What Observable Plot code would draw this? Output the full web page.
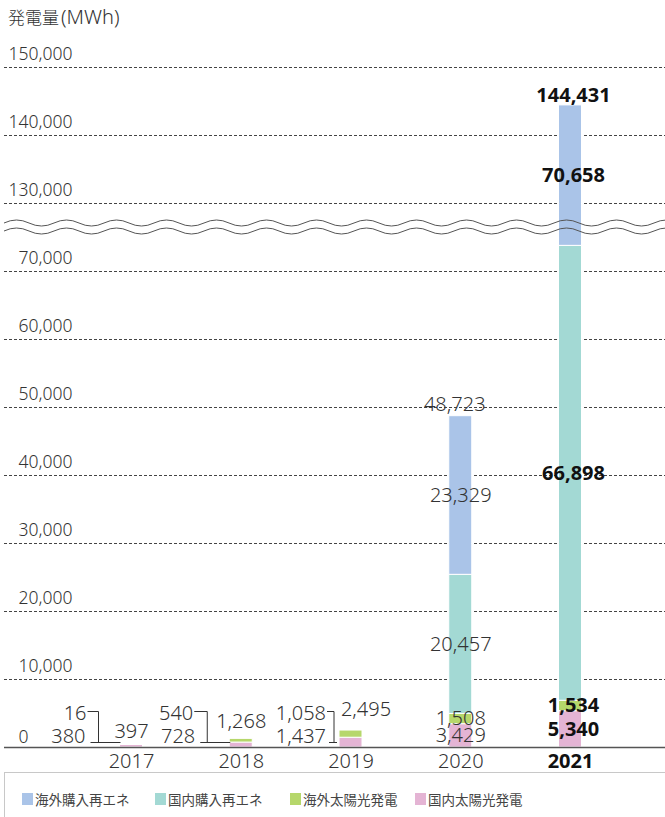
<!DOCTYPE html>
<html><head><meta charset="utf-8">
<script src="https://cdn.jsdelivr.net/npm/d3@7"></script>
<script src="https://cdn.jsdelivr.net/npm/@observablehq/plot@0.6"></script>
<style>
body{margin:0;background:#fff;}
#wrap{position:relative;width:665px;height:817px;overflow:hidden;font-family:'Noto Sans','Noto Sans CJK JP',sans-serif;}
#chart{position:absolute;left:0;top:0;}
#title{position:absolute;left:8px;top:3px;font-size:17px;color:#333;font-weight:300;font-family:'Noto Sans CJK JP','Noto Sans',sans-serif;white-space:nowrap;}
#title .u{font-family:'Noto Sans',sans-serif;font-size:20px;margin-left:2px;}
#legend{position:absolute;left:4px;top:772px;width:700px;height:60px;border-top:1px solid #c8c8c8;border-left:1px solid #c8c8c8;}
.item{position:absolute;top:19px;font-size:13.5px;color:#444;display:flex;align-items:center;font-family:'Noto Sans CJK JP',sans-serif;line-height:14px;}
.sw{width:11px;height:12px;margin-right:2px;}
</style></head><body>
<div id="wrap"><div id="chart"></div><div id="title">発電量<span class="u">(MWh)</span></div><div id="legend"></div></div>
<script>
// ---- data ----
const years = [2017, 2018, 2019, 2020, 2021];
const seriesNames = ["国内太陽光発電", "海外太陽光発電", "国内購入再エネ", "海外購入再エネ"]; // stack order bottom → top
const domesticSolar = [380, 728, 1437, 3429, 5340];
const overseasSolar = [16, 540, 1058, 1508, 1534];
const domesticPurchased = [0, 0, 0, 20457, 66898];
const overseasPurchased = [0, 0, 0, 23329, 70658];
const totals = [397, 1268, 2495, 48723, 144431];
const lowerTicks = [0, 10000, 20000, 30000, 40000, 50000, 60000, 70000];
const upperTicks = [130000, 140000, 150000];
const legendOrder = ["海外購入再エネ", "国内購入再エネ", "海外太陽光発電", "国内太陽光発電"];
const seriesColors = ["#e4b4d4", "#b6d76b", "#a3d9d4", "#aac4e8"];

// ---- layout / styles ----
const W = 665, H = 775, X0 = 4;
const xDomain = [2015.8428, 2021.8656];
const yDomain = [0, 100000];
const yRange = [747, 67];
const PPX = (W - X0) / (xDomain[1] - xDomain[0]);
const PPY = (yRange[0] - yRange[1]) / (yDomain[1] - yDomain[0]);
const ux = px => px / PPX;
const uy = px => px / PPY;
const brk = v => v >= 100000 ? v - 50000 : v;   // axis break: 75k–125k removed
const fmt = d3.format(",");
const FONT = "'Noto Sans','Noto Sans CJK JP',sans-serif";
const TXT = "#333";
const VFS = 20;   // value label font size
const TFS = 17.5; // tick label font size

// stacked segments
const seriesValues = [domesticSolar, overseasSolar, domesticPurchased, overseasPurchased];
const segs = [];
years.forEach((yr, i) => {
  let c = 0;
  seriesValues.forEach((arr, s) => {
    const v = arr[i];
    if (v > 0) segs.push({year: yr, idx: i, series: seriesNames[s], value: v, y1: brk(c), y2: brk(c + v)});
    c += v;
  });
});
const totRows = years.map((yr, i) => ({year: yr, idx: i, total: totals[i]}));

// label offsets (px)
const totDx = [0, 0, 15, -6, 3];
const totUp = [7, 11, 15, 5, 3];
const smallYears = [0, 1, 2];
const smallTopDx = [-45, -48, -25];
const smallBotDx = [-46, -46, -25];
const leaderTop = [[-44, -33], [-47, -34], [-24, -17]];
const leaderBot = [[-41, -11], [-41, -11], [-22, -14]];
const links = [];
smallYears.forEach(i => {
  const yr = years[i];
  links.push({x1: yr + ux(leaderTop[i][0]), x2: yr + ux(leaderTop[i][1]), y1: uy(36), y2: uy(36)});
  links.push({x1: yr + ux(leaderTop[i][1]), x2: yr + ux(leaderTop[i][1]), y1: uy(36), y2: uy(5)});
  links.push({x1: yr + ux(leaderBot[i][0]), x2: yr + ux(leaderBot[i][1]), y1: uy(5), y2: uy(5)});
});

const gridTicks = lowerTicks.filter(t => t > 0).concat(upperTicks);
const segLabels = segs.filter(d => d.idx >= 3);

const chart = Plot.plot({
  width: W, height: H,
  marginLeft: X0, marginRight: 0, marginTop: 0, marginBottom: 0,
  style: {fontFamily: FONT, background: "#fff"},
  x: {type: "linear", domain: xDomain, range: [X0, W], axis: null},
  y: {domain: yDomain, range: yRange, axis: null},
  color: {domain: seriesNames, range: seriesColors},
  marks: [
    Plot.ruleY(gridTicks, {y: d => brk(d), stroke: "#444", strokeWidth: 1, strokeDasharray: "3,2"}),
    // white halo behind bars
    Plot.rect(totRows, {x1: d => d.year - ux(13), x2: d => d.year + ux(13), y1: 0, y2: d => brk(d3.sum(seriesValues, a => a[d.idx])), fill: "white"}),
    Plot.rect(segs, {x1: d => d.year - ux(11.5), x2: d => d.year + ux(11.5), y1: "y1", y2: "y2", fill: "series", stroke: "white", strokeWidth: 1}),
    Plot.ruleY([0], {stroke: "#555", strokeWidth: 1.5}),
    // y tick labels
    Plot.text(gridTicks, {y: d => brk(d), frameAnchor: "left", dx: 68, dy: -8, textAnchor: "end", lineAnchor: "bottom", text: d => fmt(d), fontSize: TFS, fill: TXT, fontWeight: 300}),
    Plot.text(lowerTicks.filter(t => t === 0), {y: d => d, frameAnchor: "left", dx: 14, dy: -5, textAnchor: "start", lineAnchor: "bottom", text: d => fmt(d), fontSize: TFS, fill: TXT, fontWeight: 300}),
    // x labels
    Plot.text(years.filter(y => y !== 2021), {x: d => d, y: 0, dy: 20, lineAnchor: "bottom", text: d => String(d), fontSize: VFS, fill: TXT, fontWeight: 300}),
    Plot.text(years.filter(y => y === 2021), {x: d => d, y: 0, dy: 20, lineAnchor: "bottom", text: d => String(d), fontSize: VFS, fill: "#111", fontWeight: "bold"}),
    // leaders for small bars
    Plot.link(links, {x1: "x1", x2: "x2", y1: "y1", y2: "y2", stroke: "#333", strokeWidth: 1}),
    Plot.text(smallYears, {x: i => years[i] + ux(smallTopDx[i]), y: 0, dy: -28, textAnchor: "end", lineAnchor: "bottom", text: i => fmt(overseasSolar[i]), fontSize: VFS, fill: TXT, fontWeight: 300}),
    Plot.text(smallYears, {x: i => years[i] + ux(smallBotDx[i]), y: 0, dy: -5, textAnchor: "end", lineAnchor: "bottom", text: i => fmt(domesticSolar[i]), fontSize: VFS, fill: TXT, fontWeight: 300}),
    // totals
    Plot.text(totRows.filter(d => d.idx < 4), {x: d => d.year + ux(totDx[d.idx]), y: d => brk(d.total) + uy(totUp[d.idx]), lineAnchor: "bottom", text: d => fmt(d.total), fontSize: VFS, fill: TXT, fontWeight: 300}),
    Plot.text(totRows.filter(d => d.idx === 4), {x: d => d.year + ux(totDx[d.idx]), y: d => brk(d.total) + uy(totUp[d.idx]), lineAnchor: "bottom", text: d => fmt(d.total), fontSize: VFS, fill: "#111", fontWeight: "bold"}),
    // segment labels
    Plot.text(segLabels.filter(d => d.idx === 3), {x: "year", y: d => (d.y1 + d.y2) / 2, lineAnchor: "middle", text: d => fmt(d.value), fontSize: VFS, fill: TXT, fontWeight: 300}),
    Plot.text(segLabels.filter(d => d.idx === 4), {x: d => d.year + ux(3), y: d => (d.y1 + d.y2) / 2, lineAnchor: "middle", text: d => fmt(d.value), fontSize: VFS, fill: "#111", fontWeight: "bold"})
  ]
});

// axis-break wavy lines
const yS = chart.scale("y");
const yBase = yS.apply(brk(130000));
[20, 28].forEach(off => {
  d3.select(chart).append("path")
    .attr("d", `M${X0},${yBase + off} q12.5,-6 25,0 ` + "t25,0 ".repeat(27))
    .attr("fill", "none").attr("stroke", "#555").attr("stroke-width", 1);
});
document.getElementById("chart").appendChild(chart);

// legend
const lefts = [17, 150, 285, 410];
const leg = document.getElementById("legend");
legendOrder.forEach((name, k) => {
  const it = document.createElement("div");
  it.className = "item";
  it.style.left = lefts[k] + "px";
  const sw = document.createElement("span");
  sw.className = "sw";
  sw.style.background = seriesColors[seriesNames.indexOf(name)];
  const t = document.createElement("span");
  t.textContent = name;
  it.appendChild(sw); it.appendChild(t);
  leg.appendChild(it);
});
</script>
</body></html>
